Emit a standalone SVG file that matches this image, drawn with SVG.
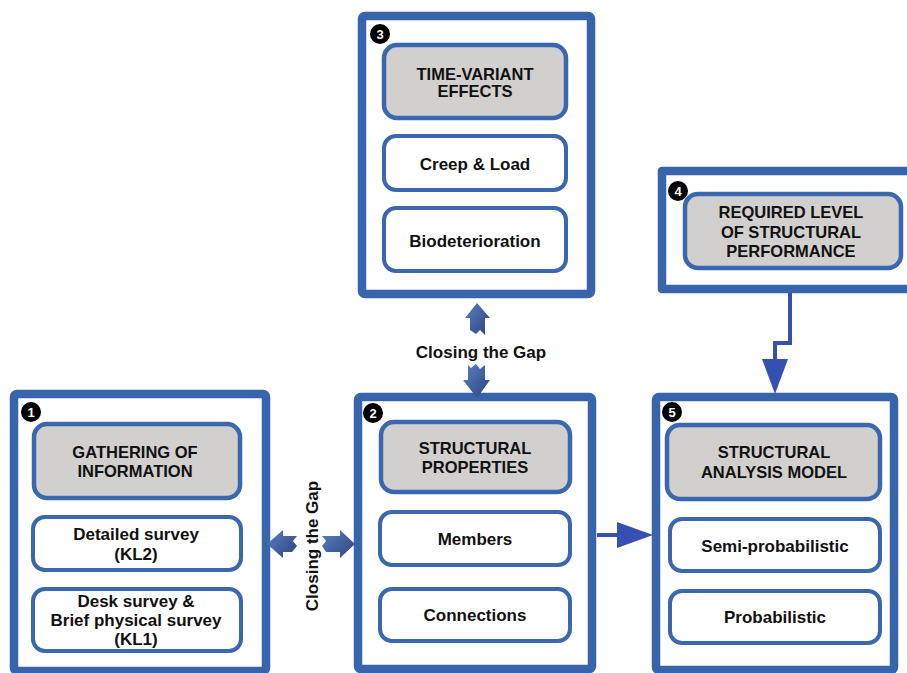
<svg xmlns="http://www.w3.org/2000/svg" width="907" height="673" viewBox="0 0 907 673">
<style>
.outer{fill:#fff;stroke:#3764ab;stroke-width:8.5;stroke-linejoin:round}
.inner{fill:#fff;stroke:#3a67ae;stroke-width:4}
.head{fill:#d1d0ce;stroke:#3a67ae;stroke-width:4.5}
text{font-family:"Liberation Sans",Arial,sans-serif;font-weight:bold;fill:#111;text-anchor:middle}
.h{font-size:16.5px}
.s{font-size:17px}
.num circle{fill:#000}
.num text{fill:#fff;font-size:13px}
.flow{fill:none;stroke:#3550b0;stroke-width:4}
.gap{fill:url(#g)}
</style>
<defs>
<linearGradient id="g" x1="0" y1="0" x2="1" y2="1">
<stop offset="0" stop-color="#5b7fc0"/>
<stop offset="1" stop-color="#2c447e"/>
</linearGradient>
</defs>
<rect width="907" height="673" fill="#fff"/>

<g id="node3">
<rect class="outer" x="362" y="16" width="229" height="278" rx="3"/>
<rect class="head" x="384" y="45" width="182" height="73" rx="13"/>
<text class="h" x="475" y="80">TIME-VARIANT</text>
<text class="h" x="475" y="97">EFFECTS</text>
<rect class="inner" x="384" y="136" width="182" height="54" rx="12"/>
<text class="s" x="475" y="170">Creep &amp; Load</text>
<rect class="inner" x="384" y="208" width="182" height="63" rx="12"/>
<text class="s" x="475" y="247">Biodeterioration</text>
<g class="num"><circle cx="380" cy="34" r="10"/><text x="380" y="38.5">3</text></g>
</g>

<g id="node4">
<path class="outer" d="M915 171 H662 V289 H915"/>
<rect class="head" x="685" y="194" width="216" height="74" rx="13"/>
<text class="h" x="791" y="218">REQUIRED LEVEL</text>
<text class="h" x="791" y="238">OF STRUCTURAL</text>
<text class="h" x="791" y="257">PERFORMANCE</text>
<g class="num"><circle cx="678" cy="191" r="10"/><text x="678" y="195.5">4</text></g>
</g>

<g id="node1">
<rect class="outer" x="14" y="394" width="252" height="277" rx="3"/>
<rect class="head" x="34" y="424" width="206" height="74" rx="13"/>
<text class="h" x="135" y="458">GATHERING OF</text>
<text class="h" x="135" y="477">INFORMATION</text>
<rect class="inner" x="33" y="517" width="208" height="53" rx="12"/>
<text class="s" x="136" y="540">Detailed survey</text>
<text class="s" x="136" y="560">(KL2)</text>
<rect class="inner" x="33" y="589" width="208" height="62" rx="12"/>
<text class="s" x="136" y="607">Desk survey &amp;</text>
<text class="s" x="136" y="626">Brief physical survey</text>
<text class="s" x="136" y="645">(KL1)</text>
<g class="num"><circle cx="31" cy="412" r="10"/><text x="31" y="416.5">1</text></g>
</g>

<g id="node2">
<rect class="outer" x="358" y="397" width="234" height="272" rx="3"/>
<rect class="head" x="381" y="422" width="189" height="70" rx="13"/>
<text class="h" x="475" y="454">STRUCTURAL</text>
<text class="h" x="475" y="473">PROPERTIES</text>
<rect class="inner" x="380" y="512" width="190" height="53" rx="12"/>
<text class="s" x="475" y="545">Members</text>
<rect class="inner" x="380" y="589" width="190" height="52" rx="12"/>
<text class="s" x="475" y="621">Connections</text>
<g class="num"><circle cx="373" cy="413" r="10"/><text x="373" y="417.5">2</text></g>
</g>

<g id="node5">
<rect class="outer" x="656" y="397" width="238" height="273" rx="3"/>
<rect class="head" x="667" y="425" width="213" height="74" rx="13"/>
<text class="h" x="774" y="458">STRUCTURAL</text>
<text class="h" x="774" y="478">ANALYSIS MODEL</text>
<rect class="inner" x="670" y="519" width="210" height="52" rx="12"/>
<text class="s" x="775" y="552">Semi-probabilistic</text>
<rect class="inner" x="670" y="591" width="210" height="52" rx="12"/>
<text class="s" x="775" y="623">Probabilistic</text>
<g class="num"><circle cx="672" cy="412" r="10"/><text x="672" y="416.5">5</text></g>
</g>

<g id="connectors">
<path class="flow" d="M790 293 V343 H775 V362"/>
<polygon points="762,359 788,359 775,394" fill="#3550b0"/>
<path class="flow" d="M597 535 H620"/>
<polygon points="617,522 617,548 653,535" fill="#3550b0"/>
<polygon class="gap" points="477,303 490,318 485,318 485,335 480,330 476,334 470,330 470,318 465,318"/>
<polygon class="gap" points="477,398 490,380 485,380 485,365 480,369 476,364 471,368 468,365 468,380 463,380"/>
<polygon class="gap" points="267,544 283,530 283,536 297,536 293,541 297,546 292,552 283,552 283,558"/>
<polygon class="gap" points="355,544 340,530 340,536 322,536 326,541 322,546 326,552 340,552 340,558"/>
<text class="s" x="481" y="358">Closing the Gap</text>
<text class="s" transform="translate(318 546) rotate(-90)">Closing the Gap</text>
</g>
</svg>
